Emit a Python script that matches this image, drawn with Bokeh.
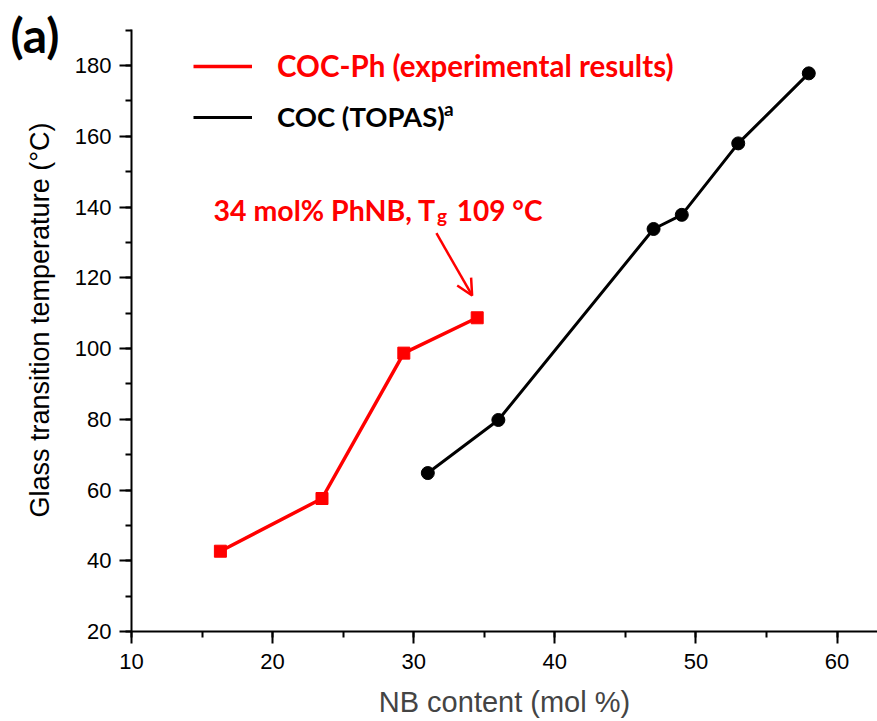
from bokeh.plotting import figure
from bokeh.models import (Range1d, Label, Legend, LegendItem, Arrow, OpenHead,
                          SingleIntervalTicker, Title)
from bokeh.embed import file_html
from bokeh.resources import INLINE

# ---- data ----
coc_ph_x = [16.3, 23.5, 29.3, 34.5]
coc_ph_y = [42.7, 57.6, 98.7, 108.7]
coc_x = [31.0, 36.0, 47.0, 49.0, 53.0, 58.0]
coc_y = [64.8, 79.8, 133.8, 137.8, 158.0, 177.8]
legend_red = "COC-Ph (experimental results)"
legend_black = "COC (TOPAS)"

RED = "#FF0000"
BOLD_FONT = "Lato"
AX_FONT = "Liberation Sans"

p = figure(width=877, height=721, output_backend="svg", toolbar_location=None,
           x_range=Range1d(10, 62.87), y_range=Range1d(20, 190.2),
           min_border_left=131, min_border_right=0, min_border_top=29,
           min_border_bottom=90)
p.outline_line_color = None
p.xgrid.visible = False
p.ygrid.visible = False
p.background_fill_color = "white"
p.border_fill_color = "white"

for ax in (p.xaxis[0], p.yaxis[0]):
    ax.axis_line_width = 2
    ax.axis_line_color = "black"
    ax.major_tick_line_width = 2
    ax.minor_tick_line_width = 2
    ax.major_tick_line_color = "black"
    ax.minor_tick_line_color = "black"
    ax.major_tick_in = 0
    ax.major_tick_out = 12
    ax.minor_tick_in = 0
    ax.minor_tick_out = 6
    ax.major_label_text_font = AX_FONT
    ax.major_label_text_font_size = "22px"
    ax.major_label_text_color = "black"

p.xaxis.ticker = SingleIntervalTicker(interval=10, num_minor_ticks=2)
p.yaxis.ticker = SingleIntervalTicker(interval=20, num_minor_ticks=2)
p.xaxis.major_label_standoff = 10
p.yaxis.major_label_standoff = 8
p.xaxis.axis_label = "NB content (mol %)"
p.xaxis.axis_label_text_font = AX_FONT
p.xaxis.axis_label_text_font_size = "29px"
p.xaxis.axis_label_text_font_style = "normal"
p.xaxis.axis_label_standoff = 14

# y-axis title (starts near the bottom of the frame, shifted up)
p.add_layout(Title(text="Glass transition temperature (\u00b0C)", align="left",
                   text_font=AX_FONT, text_font_size="27px", text_font_style="normal",
                   text_color="black", offset=114, standoff=34), "left")

# panel tag "(a)" in the top panel
p.add_layout(Title(text="(a)", align="left", offset=-121, standoff=-67,
                   vertical_align="bottom", text_font=BOLD_FONT,
                   text_font_style="bold", text_font_size="48px",
                   text_color="black"), "above")

# ---- series ----
r_red = p.line(coc_ph_x, coc_ph_y, line_color=RED, line_width=3.5)
p.scatter(coc_ph_x, coc_ph_y, marker="square", size=12, fill_color=RED, line_color=RED)
r_blk = p.line(coc_x, coc_y, line_color="black", line_width=3)
p.scatter(coc_x, coc_y, marker="circle", size=13, fill_color="black", line_color="black")

# ---- legends ----
def make_legend(label, rend, color, loc, size):
    return Legend(items=[LegendItem(label=label, renderers=[rend])], location=loc,
                  label_text_font=BOLD_FONT, label_text_font_style="bold",
                  label_text_font_size=size, label_text_color=color,
                  glyph_width=59, glyph_height=20, label_standoff=25,
                  padding=0, margin=0, spacing=0,
                  border_line_alpha=0, background_fill_alpha=0)

p.add_layout(make_legend(legend_red, r_red, RED, (62, 548), "29.5px"))
p.add_layout(make_legend(legend_black, r_blk, "black", (62, 498), "27.5px"))
p.add_layout(Label(x=32.15, y=167.8, text="a", text_font=BOLD_FONT,
                   text_font_style="bold", text_font_size="19px",
                   text_color="black", text_baseline="alphabetic"))

# ---- annotation ----
p.add_layout(Label(x=15.81, y=139.1, text="34 mol% PhNB, T", text_font=BOLD_FONT,
                   text_font_style="bold", text_font_size="28.5px", text_color=RED,
                   text_baseline="alphabetic"))
p.add_layout(Label(x=31.66, y=137.7, text="g", text_font=BOLD_FONT,
                   text_font_style="bold", text_font_size="19px", text_color=RED,
                   text_baseline="alphabetic"))
p.add_layout(Label(x=33.05, y=139.1, text="109 \u00b0C", text_font=BOLD_FONT,
                   text_font_style="bold", text_font_size="28px", text_color=RED,
                   text_baseline="alphabetic"))
p.add_layout(Arrow(x_start=31.61, y_start=132.6, x_end=34.14, y_end=115.0,
                   line_color=RED, line_width=2.5,
                   end=OpenHead(size=16, line_color=RED, line_width=2.5)))

open("out.html", "w").write(file_html(p, INLINE))
